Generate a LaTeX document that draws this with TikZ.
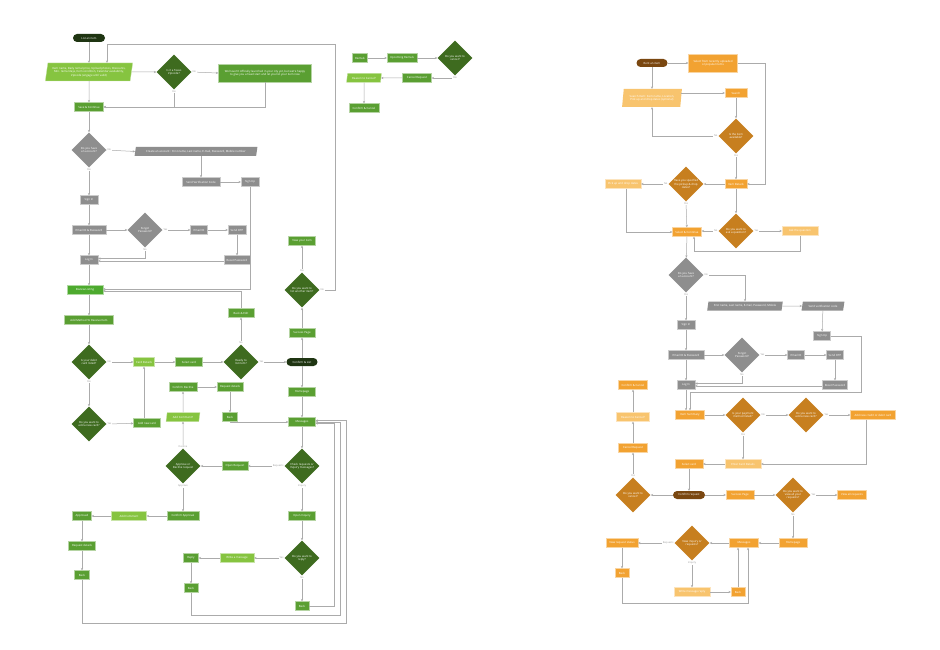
\documentclass[tikz,border=0pt]{standalone}
\usepackage{fontspec}
\setmainfont{Open Sans}
\usetikzlibrary{shapes.geometric,arrows.meta}
\definecolor{gDark}{HTML}{3E6B1F}
\definecolor{gMid}{HTML}{5A9F32}
\definecolor{gBright}{HTML}{4DAA2E}
\definecolor{gLight}{HTML}{86C440}
\definecolor{gTerm}{HTML}{1F3512}
\definecolor{grayN}{HTML}{8E8E8E}
\definecolor{oMid}{HTML}{F2A231}
\definecolor{oLight}{HTML}{F8C46E}
\definecolor{oDark}{HTML}{C77F1F}
\definecolor{oTerm}{HTML}{7A4710}
\definecolor{lineGray}{HTML}{ABABAB}
\definecolor{labelGray}{HTML}{9A9A9A}
\begin{document}
\begin{tikzpicture}[x=1pt,y=-1pt,
  font=\fontsize{2.8}{3.3}\selectfont,
  mw/.style={minimum width=#1pt},
  base/.style={text=white, inner sep=0.8pt, minimum height=9pt, align=center, line width=0.3pt},
  gbox/.style={base, rectangle, fill=gMid, draw=gMid!45!white},
  gbright/.style={base, rectangle, fill=gBright, draw=gBright!45!white},
  glbox/.style={base, rectangle, fill=gLight, draw=gLight!45!white},
  gpara/.style={base, trapezium, trapezium left angle=78, trapezium right angle=102, trapezium stretches=true, fill=gLight, draw=gLight!45!white},
  gterm/.style={base, rectangle, rounded corners=4pt, minimum height=8pt, fill=gTerm},
  gdia/.style={diamond, aspect=1, fill=gDark, text=white, inner sep=0pt, minimum size=35pt, align=center},
  graybox/.style={base, rectangle, fill=grayN, draw=grayN!45!white},
  graypara/.style={base, trapezium, trapezium left angle=75, trapezium right angle=105, trapezium stretches=true, fill=grayN},
  graydia/.style={diamond, aspect=1, fill=grayN, text=white, inner sep=0pt, minimum size=35pt, align=center},
  obox/.style={base, rectangle, fill=oMid, draw=oMid!45!white},
  olbox/.style={base, rectangle, fill=oLight, draw=oLight!45!white},
  opara/.style={base, trapezium, trapezium left angle=80, trapezium right angle=100, trapezium stretches=true, fill=oLight},
  oterm/.style={base, rectangle, rounded corners=4pt, minimum height=8pt, fill=oTerm},
  odia/.style={diamond, aspect=1, fill=oDark, text=white, inner sep=0pt, minimum size=35pt, align=center},
  arr/.style={draw=lineGray, line width=0.5pt, -{Stealth[length=2.4pt,width=2.2pt]}},
  lbl/.style={font=\fontsize{2.5}{3}\selectfont, text=labelGray, fill=white, inner sep=0.6pt}
]
\fill[white] (0,0) rectangle (940,650);
\useasboundingbox (0,0) rectangle (940,650);

% ---------------- Left chart: List an item ----------------
\node[gterm, mw=32] (listitem) at (89,38) {List an item};
\node[gpara, mw=88, minimum height=18pt] (itemdet) at (89,72) {Item name, Daily rental price, Upload photos, Discounts,\\Min. rental days, Item condition, Calendar availability,\\Zipcode (engage until valid)};
\node[gdia] (texas) at (174,72) {Is it a Texas\\Zipcode?};
\node[gbox, mw=93, minimum height=18pt] (launch) at (265,73) {We haven't officially launched in your city yet, but we're happy\\to give you a head start and let you list your item now};
\node[gbox, mw=29] (save) at (89,107) {Save \& Continue};
\node[graydia] (acc) at (89,150) {Do you have\\an account?};
\node[graypara, mw=123] (create) at (196,151.5) {Create an account : First name, Last name, E-mail, Password, Mobile number};
\node[graybox, mw=38] (sendcode) at (201,182) {Send Verification Code};
\node[graybox, mw=18] (signup) at (250,182) {Sign Up};
\node[graybox, mw=18] (signin) at (89,200) {Sign In};
\node[graybox, mw=34] (emailpw) at (89,230) {Email ID \& Password};
\node[graydia] (forgot) at (145,230) {Forgot\\Password?};
\node[graybox, mw=17] (emailid) at (199,230) {Email ID};
\node[graybox, mw=18] (sendotp) at (237,230) {Send OTP};
\node[graybox, mw=26] (reset) at (237,260) {Reset Password};
\node[graybox, mw=18] (login) at (89,260) {Log In};
\node[gbright, mw=36] (review) at (85,290) {Review Listing};
\node[gbox, mw=49] (addmethod) at (89,320) {Add Method To Receive Item};
\node[gdia] (debit) at (89,362) {Is your debit\\card listed?};
\node[glbox, mw=21] (carddet) at (144,362) {Card Details};
\node[gbox, mw=27] (selcard) at (189,362) {Select card};
\node[gdia] (ready) at (241,362) {Ready to\\list item?};
\node[gterm, mw=31] (conflist) at (302,362) {Confirm \& List};
\node[gbox, mw=26] (backedit) at (241,313) {Back \& Edit};
\node[gbox, mw=26] (success) at (302,333) {Success Page};
\node[gdia] (another) at (302,290) {Do you want to\\list another item?};
\node[gbox, mw=27] (viewitem) at (302,241) {View your item};
\node[gdia] (newcard) at (89,424) {Do you want to\\add a new card?};
\node[gbox, mw=27] (addnew) at (147,423) {Add new card};
\node[gbox, mw=28] (confdec) at (183,387) {Confirm Decline};
\node[gbox, mw=26] (reqdet1) at (230,387) {Request details};
\node[gbox, mw=15] (back1) at (230,417) {Back};
\node[gpara, mw=34] (addcq) at (183,417) {Add Comment?};
\node[gbox, mw=27] (homepage) at (302,392) {Homepage};
\node[gbox, mw=27] (messages) at (302,422) {Messages};
\node[gdia] (check) at (302,466) {Check requests or\\Inquiry messages?};
\node[gbox, mw=26] (openreq) at (235,466) {Open Request};
\node[gdia] (approve) at (183,466) {Approve or\\Decline request};
\node[gbox, mw=32] (confapp) at (183,516) {Confirm Approval};
\node[glbox, mw=35] (addc) at (129,516) {Add Comment};
\node[gbox, mw=19] (approved) at (82,516) {Approved};
\node[gbox, mw=27] (reqdet2) at (82,546) {Request details};
\node[gbox, mw=15] (back2) at (82,575) {Back};
\node[gbox, mw=27] (openinq) at (302,516) {Open Inquiry};
\node[gdia] (reply) at (302,558) {Do you want to\\reply?};
\node[glbox, mw=34] (writemsg) at (237,558) {Write a message};
\node[gbox, mw=15] (replyb) at (191,558) {Reply};
\node[gbox, mw=14] (back3) at (191,588) {Back};
\node[gbox, mw=14] (back4) at (302,606) {Back};

% ---------------- Top middle: Rentals ----------------
\node[gbox, mw=15] (rentals) at (360,58) {Rentals};
\node[gbox, mw=30] (upcoming) at (402,58) {Upcoming Rentals};
\node[gdia] (cancelq) at (455,58) {Do you want to\\cancel?};
\node[gbox, mw=29] (cancelreq) at (417,78) {Cancel Request};
\node[gpara, mw=35] (reason) at (364,78) {Reason to Cancel?};
\node[gbox, mw=30] (confcancel) at (364,108) {Confirm \& Cancel};

% ---------------- Right chart: Rent an item ----------------
\node[oterm, mw=31] (rent) at (652,63) {Rent an item};
\node[obox, mw=49, minimum height=18pt] (selectr) at (713,63) {Select from recently uploaded\\or popular items};
\node[opara, mw=60, minimum height=18pt] (searchitem) at (652,98) {Search Item: Item name, Location,\\Pick up and drop dates (optional)};
\node[obox, mw=22] (search) at (736,93) {Search};
\node[odia] (avail) at (736,136) {Is the item\\available?};
\node[obox, mw=22] (itemdr) at (736,184) {Item Details};
\node[odia] (specified) at (686,184) {Have you specified\\the pickup \& drop\\dates?};
\node[olbox, mw=36] (pickup) at (623,184) {Pick up and drop dates};
\node[obox, mw=29] (selcont) at (687,232) {Select \& Continue};
\node[odia] (question) at (736,231) {Do you want to\\ask a question?};
\node[olbox, mw=36] (ask) at (800,231) {Ask the question};
\node[graydia] (racc) at (686,275) {Do you have\\an account?};
\node[graypara, mw=76] (fields) at (745,306) {First name, Last name, E-mail, Password, Mobile};
\node[graypara, mw=43] (sendcoder) at (823,306) {Send verification code};
\node[graybox, mw=17] (signupr) at (822,336) {Sign Up};
\node[graybox, mw=18] (signinr) at (686,325) {Sign In};
\node[graybox, mw=36] (emailpwr) at (686,355) {Email ID \& Password};
\node[graydia] (forgotr) at (742,355) {Forgot\\Password?};
\node[graybox, mw=17] (emailidr) at (796,355) {Email ID};
\node[graybox, mw=17] (sendotpr) at (835,355) {Send OTP};
\node[graybox, mw=25] (resetr) at (835,385) {Reset Password};
\node[graybox, mw=18] (loginr) at (686,385) {Log In};
\node[obox, mw=29] (summary) at (690,415) {Item Summary};
\node[odia] (payment) at (743,415) {Is your payment\\method listed?};
\node[odia] (newcardr) at (806,415) {Do you want to\\add a new card?};
\node[obox, mw=45] (addcard) at (873,415) {Add new credit or debit card};
\node[olbox, mw=36] (entercard) at (743,464) {Enter Card Details};
\node[obox, mw=28] (selcardr) at (689,464) {Select card};
\node[oterm, mw=32] (confreq) at (689,495) {Confirm request};
\node[odia] (cancelr) at (633,495) {Do you want to\\cancel?};
\node[obox, mw=29] (cancelreqr) at (633,448) {Cancel Request};
\node[olbox, mw=33] (reasonr) at (633,417) {Reason to Cancel?};
\node[obox, mw=29] (confcancelr) at (633,385) {Confirm \& Cancel};
\node[obox, mw=28] (successr) at (740,495) {Success Page};
\node[odia] (viewall) at (793,495) {Do you want to\\view all your\\requests?};
\node[obox, mw=29] (viewreqs) at (852,495) {View all requests};
\node[obox, mw=28] (homepager) at (793,543) {Homepage};
\node[obox, mw=29] (messagesr) at (744,543) {Messages};
\node[odia] (inquiry) at (692,543) {View inquiry or\\requests?};
\node[obox, mw=32] (status) at (622,543) {View request status};
\node[obox, mw=14] (backr) at (622,573) {Back};
\node[olbox, mw=36] (writereply) at (692,592) {Write message reply};
\node[obox, mw=14] (backr2) at (738,592) {Back};

% ---------------- Left connectors ----------------
\draw[arr] (listitem) -- (itemdet);
\draw[arr] (itemdet) -- (save);
\draw[arr] (itemdet.east) -- (texas.west);
\draw[arr] (texas.east) -- node[lbl,at start,anchor=west]{No} (launch.west);
\draw[arr] (texas.south) |- node[lbl,at start,anchor=north]{Yes} (save.east);
\draw[arr] (launch.south) |- (save.east);
\draw[arr] (save) -- (acc);
\draw[arr] (acc.east) -- node[lbl,at start,anchor=west]{No} (create.west);
\draw[arr] (sendcode.north |- create.south) -- (sendcode.north);
\draw[arr] (sendcode) -- (signup);
\draw[arr] (signup.south) |- ([yshift=1pt]review.east);
\draw[arr] (acc.south) -- node[lbl,at start,anchor=north]{Yes} (signin);
\draw[arr] (signin) -- (emailpw);
\draw[arr] (emailpw) -- (forgot);
\draw[arr] (forgot.east) -- node[lbl,at start,anchor=west]{Yes} (emailid);
\draw[arr] (emailid) -- (sendotp);
\draw[arr] (sendotp) -- (reset);
\draw[arr] ([yshift=-1pt]reset.west) -- ([yshift=-1pt]login.east);
\draw[arr] (forgot.south) |- node[lbl,at start,anchor=north]{No} ([yshift=1.5pt]login.east);
\draw[arr] (emailpw) -- (login);
\draw[arr] (login.south) -- (login.south |- review.north);
\draw[arr] (backedit.north) |- ([yshift=-1pt]review.east);
\draw[arr] (login.south |- review.south) -- (login.south |- addmethod.north);
\draw[arr] (addmethod) -- (debit);
\draw[arr] (debit.east) -- node[lbl,at start,anchor=west]{No} (carddet);
\draw[arr] (carddet) -- (selcard);
\draw[arr] (selcard) -- (ready);
\draw[arr] (ready.east) -- node[lbl,at start,anchor=west]{Yes} (conflist);
\draw[arr] (ready.north) -- node[lbl,at start,anchor=south]{No} (backedit);
\draw[arr] (debit.south) -- node[lbl,at start,anchor=north]{Yes} (newcard);
\draw[arr] (newcard.east) -- node[lbl,at start,anchor=west]{Yes} (addnew);
\draw[arr] (carddet.south |- addnew.north) -- (carddet.south);
\draw[arr] (conflist) -- (success);
\draw[arr] (success) -- (another);
\draw[arr] (another.north) -- node[lbl,at start,anchor=south]{Yes} (viewitem);
\coordinate (lp) at (335,44);
\draw[arr] (another.east) node[lbl,anchor=west]{No} -| (lp) -| ([xshift=18pt]itemdet.north);
\draw[arr] (conflist) -- (homepage);
\draw[arr] (homepage) -- (messages);
\draw[arr] (confdec) -- (reqdet1);
\draw[arr] (reqdet1) -- (back1);
\draw[arr] (back1.south) |- (messages.west);
\draw[arr] (addcq) -- (confdec);
\draw[arr] (messages) -- (check);
\draw[arr] (check.west) -- node[lbl,at start,anchor=east]{Requests} (openreq);
\draw[arr] (openreq) -- (approve);
\draw[arr] (approve.north) -- node[lbl,at start,anchor=south]{Decline} (addcq);
\draw[arr] (approve.south) -- node[lbl,at start,anchor=north]{Approve} (confapp);
\draw[arr] (confapp) -- (addc);
\draw[arr] (addc) -- (approved);
\draw[arr] (approved) -- (reqdet2);
\draw[arr] (reqdet2) -- (back2);
\coordinate (lc1) at (346,623);
\draw[arr] (back2.south) |- (lc1) |- ([yshift=1.5pt]messages.east);
\draw[arr] (check.south) -- node[lbl,at start,anchor=north]{Inquiry} (openinq);
\draw[arr] (openinq) -- (reply);
\draw[arr] (reply.west) -- node[lbl,at start,anchor=east]{Yes} (writemsg);
\draw[arr] (writemsg) -- (replyb);
\draw[arr] (replyb) -- (back3);
\coordinate (lc2) at (340,615);
\draw[arr] (back3.south) |- (lc2) |- (messages.east);
\coordinate (lc3) at (334,606);
\draw[arr] (back4.east) -- (lc3) |- ([yshift=-1.5pt]messages.east);
\draw[arr] (reply.south) -- node[lbl,at start,anchor=north]{No} (back4);

% ---------------- Top middle connectors ----------------
\draw[arr] (rentals) -- (upcoming);
\draw[arr] (upcoming) -- (cancelq);
\draw[arr] (cancelq.south) |- node[lbl,at start,anchor=north]{Yes} (cancelreq.east);
\draw[arr] (cancelreq) -- (reason);
\draw[arr] (reason) -- (confcancel);

% ---------------- Right connectors ----------------
\draw[arr] (rent) -- (selectr);
\coordinate (rc1) at (765,184);
\draw[arr] (selectr.east) -| (rc1) -- (itemdr.east);
\draw[arr] (rent) -- (searchitem);
\draw[arr] (search.west -| searchitem.east) -- (search.west);
\draw[arr] (search) -- (avail);
\draw[arr] (avail.west) -| node[lbl,at start,anchor=east]{No} (searchitem.south);
\draw[arr] (avail.south) -- node[lbl,at start,anchor=north]{Yes} (itemdr);
\draw[arr] (itemdr) -- (specified);
\draw[arr] (specified.west) -- node[lbl,at start,anchor=east]{No} (pickup);
\draw[arr] (specified.south) -- node[lbl,at start,anchor=north]{Yes} (selcont);
\draw[arr] ([xshift=3pt]pickup.south) |- (selcont.west);
\draw[arr] (itemdr) -- (question);
\draw[arr] (question.west) -- node[lbl,at start,anchor=east]{No} (selcont.east |- question.west);
\draw[arr] (question.east) -- node[lbl,at start,anchor=west]{Yes} (ask);
\coordinate (rc2) at (694,251);
\draw[arr] (ask.south) |- (rc2) -- (rc2 |- selcont.south);
\draw[arr] (selcont) -- (racc);
\draw[arr] (racc.east) -| node[lbl,at start,anchor=west]{No} (fields.north);
\draw[arr] (fields) -- (sendcoder);
\draw[arr] (sendcoder) -- (signupr);
\coordinate (rc3) at (861,392);
\draw[arr] (signupr.east) -| (rc3) -| (summary.north);
\draw[arr] (racc.south) -- node[lbl,at start,anchor=north]{Yes} (signinr);
\draw[arr] (signinr) -- (emailpwr);
\draw[arr] (emailpwr) -- (forgotr);
\draw[arr] (emailpwr) -- (loginr);
\draw[arr] (forgotr.east) -- node[lbl,at start,anchor=west]{Yes} (emailidr);
\draw[arr] (emailidr) -- (sendotpr);
\draw[arr] (sendotpr) -- (resetr);
\draw[arr] ([yshift=-1pt]resetr.west) -- ([yshift=-1pt]loginr.east);
\draw[arr] (forgotr.south) |- node[lbl,at start,anchor=north]{No} ([yshift=1.5pt]loginr.east);
\draw[arr] (loginr.south) -- (loginr.south |- summary.north);
\draw[arr] (summary) -- (payment);
\draw[arr] (payment.east) -- node[lbl,at start,anchor=west]{No} (newcardr);
\draw[arr] (newcardr.east) -- node[lbl,at start,anchor=west]{Yes} (addcard);
\draw[arr] ([xshift=-7pt]addcard.south) |- (entercard.east);
\draw[arr] (payment.south) -- node[lbl,at start,anchor=north]{Yes} (entercard);
\draw[arr] (entercard) -- (selcardr);
\draw[arr] (selcardr) -- (confreq);
\draw[arr] (confreq) -- (cancelr);
\draw[arr] (cancelr.north) -- node[lbl,at start,anchor=south]{Yes} (cancelreqr);
\draw[arr] (cancelreqr) -- (reasonr);
\draw[arr] (reasonr) -- (confcancelr);
\draw[arr] (confreq) -- (successr);
\draw[arr] (successr) -- (viewall);
\draw[arr] (viewall.east) -- node[lbl,at start,anchor=west]{Yes} (viewreqs);
\draw[arr] (viewall.south) -- node[lbl,at start,anchor=north]{No} (homepager);
\draw[arr] (homepager) -- (messagesr);
\draw[arr] (messagesr) -- (inquiry);
\draw[arr] (inquiry.west) -- node[lbl,at start,anchor=east]{Requests} (status);
\draw[arr] (status) -- (backr);
\coordinate (rc4) at (748,603);
\draw[arr] (backr.south) |- (rc4) -- (rc4 |- messagesr.south);
\draw[arr] (inquiry.south) -- node[lbl,at start,anchor=north]{Inquiry} (writereply);
\draw[arr] (writereply) -- (backr2);
\draw[arr] (backr2.north) -- (backr2.north |- messagesr.south);
\end{tikzpicture}
\end{document}
